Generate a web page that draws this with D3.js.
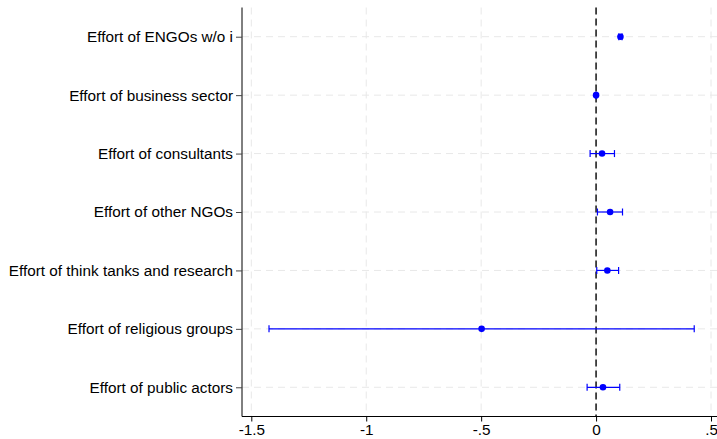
<!DOCTYPE html>
<html>
<head>
<meta charset="utf-8">
<script src="https://cdn.jsdelivr.net/npm/d3@7"></script>
<style>
  html, body { margin: 0; padding: 0; background: #fff; }
  svg { display: block; font-family: "Liberation Sans", Arial, Helvetica, sans-serif; }
</style>
</head>
<body>
<svg id="chart" width="717" height="439"></svg>
<script>
// Coefficient estimates with 95% confidence intervals
const categories = [
  "Effort of ENGOs w/o i",
  "Effort of business sector",
  "Effort of consultants",
  "Effort of other NGOs",
  "Effort of think tanks and research",
  "Effort of religious groups",
  "Effort of public actors"
];
const estimates = [0.106, 0.000, 0.026, 0.061, 0.049, -0.498, 0.030];
const ciLower   = [0.099, -0.003, -0.026, 0.006, 0.003, -1.423, -0.039];
const ciUpper   = [0.113, 0.003, 0.080, 0.115, 0.098, 0.427, 0.103];
const xTicks = [-1.5, -1, -0.5, 0, 0.5];
const xTickLabels = ["-1.5", "-1", "-.5", "0", ".5"];

const svg = d3.select("#chart");
const plotLeft = 242, plotRight = 717, plotTop = 7.5, plotBottom = 416.5;
const fontSize = 15.3;

const x = d3.scaleLinear().domain([-1.5405, 0.5261]).range([plotLeft, plotRight]);
const y = d3.scalePoint().domain(categories).range([plotTop, plotBottom]).padding(0.5);

const rows = categories.map((c, i) => ({ c, est: estimates[i], lo: ciLower[i], hi: ciUpper[i] }));

// grid
const grid = svg.append("g").attr("stroke", "#e8e8e8").attr("stroke-width", 1).attr("stroke-dasharray", "7,5");
grid.selectAll("line.v").data(xTicks).join("line")
  .attr("x1", d => x(d)).attr("x2", d => x(d))
  .attr("y1", plotTop).attr("y2", plotBottom);
grid.selectAll("line.h").data(categories).join("line")
  .attr("x1", plotLeft).attr("x2", plotRight)
  .attr("y1", d => y(d)).attr("y2", d => y(d));

// reference line at zero
svg.append("line")
  .attr("x1", x(0)).attr("x2", x(0))
  .attr("y1", plotTop).attr("y2", plotBottom)
  .attr("stroke", "#222").attr("stroke-width", 1.6)
  .attr("stroke-dasharray", "7,4");

// axes
const xAxis = svg.append("g")
  .attr("transform", `translate(0,${plotBottom})`)
  .call(d3.axisBottom(x).tickValues(xTicks).tickFormat((d, i) => xTickLabels[i]).tickSize(5).tickPadding(3));
xAxis.select(".domain").attr("stroke", "#000").attr("d", `M${plotLeft},0H${plotRight}`);
xAxis.selectAll(".tick line").attr("stroke", "#000");
xAxis.selectAll("text").attr("font-size", fontSize).attr("fill", "#000")
  .attr("font-family", "'Liberation Sans', Arial, sans-serif");

const yAxis = svg.append("g")
  .attr("transform", `translate(${plotLeft},0)`)
  .call(d3.axisLeft(y).tickSize(6).tickPadding(3));
yAxis.select(".domain").attr("stroke", "#000").attr("d", `M0,${plotTop}V${plotBottom}`);
yAxis.selectAll(".tick line").attr("stroke", "#444");
yAxis.selectAll("text").attr("font-size", fontSize).attr("fill", "#000")
  .attr("font-family", "'Liberation Sans', Arial, sans-serif");

// confidence intervals
const blue = "#0000ff";
const ci = svg.append("g").attr("stroke", blue).attr("stroke-width", 1.2);
ci.selectAll("line.ci").data(rows).join("line")
  .attr("x1", d => x(d.lo)).attr("x2", d => x(d.hi))
  .attr("y1", d => y(d.c)).attr("y2", d => y(d.c));
ci.selectAll("line.capl").data(rows).join("line")
  .attr("x1", d => x(d.lo)).attr("x2", d => x(d.lo))
  .attr("y1", d => y(d.c) - 3.5).attr("y2", d => y(d.c) + 3.5);
ci.selectAll("line.capr").data(rows).join("line")
  .attr("x1", d => x(d.hi)).attr("x2", d => x(d.hi))
  .attr("y1", d => y(d.c) - 3.5).attr("y2", d => y(d.c) + 3.5);

// point estimates
svg.append("g").selectAll("circle").data(rows).join("circle")
  .attr("cx", d => x(d.est)).attr("cy", d => y(d.c))
  .attr("r", 3.3).attr("fill", blue);
</script>
</body>
</html>
